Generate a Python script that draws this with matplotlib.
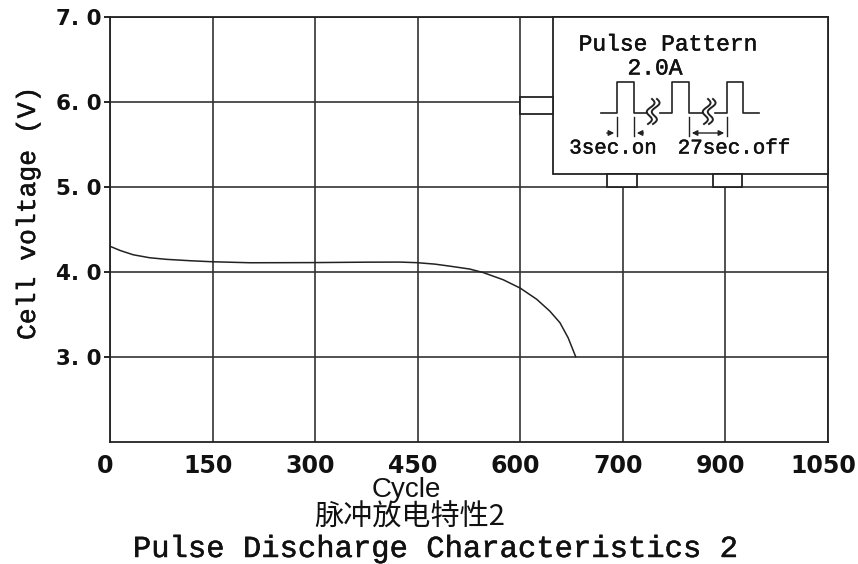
import numpy as np
import matplotlib
matplotlib.use("Agg")
import matplotlib.pyplot as plt
import matplotlib.patheffects as pe
from matplotlib.patches import Rectangle
from matplotlib.transforms import ScaledTranslation

# discharge curve
cycles = [0, 15, 34, 58, 83, 117, 149, 205, 300, 375, 424, 449, 475, 497, 526, 546,
          575, 600, 624, 643, 658, 670, 681]
volts = [4.30, 4.25, 4.20, 4.165, 4.146, 4.13, 4.118, 4.106, 4.108, 4.113, 4.114, 4.107,
         4.09, 4.066, 4.032, 3.99, 3.906, 3.807, 3.676, 3.538, 3.40, 3.222, 3.0]

xticks = [0, 150, 300, 450, 600, 750, 900, 1050]
xlabels = ["0", "150", "300", "450", "600", "700", "900", "1050"]
yticks = [3, 4, 5, 6, 7]
ylabels = ["3. 0", "4. 0", "5. 0", "6. 0", "7. 0"]

W, H = 858, 564
fig = plt.figure(figsize=(W / 100, H / 100), dpi=100)
fig.patch.set_facecolor("white")

def px(x, y):
    # figure pixels (from top-left) -> figure fraction
    return x / W, 1 - y / H

heavy = [pe.withStroke(linewidth=0.35, foreground="#111111")]

ax = fig.add_axes([110 / W, 1 - 441.6 / H, 718 / W, 424.6 / H])
ax.plot(cycles, volts, color="#222222", lw=1.1, zorder=3)
ax.set_xlim(0, 1050)
ax.set_ylim(2.0, 7.0)
ax.set_xticks(xticks)
ax.set_xticklabels(xlabels)
ax.set_yticks(yticks)
ax.set_yticklabels(ylabels)
ax.grid(True, color="#333333", lw=1.2)
for s in ax.spines.values():
    s.set_color("#222222")
    s.set_linewidth(1.3)
ax.tick_params(axis="x", length=0, pad=9, labelsize=17)
ax.tick_params(axis="y", length=4, width=1.2, pad=2, labelsize=15.5)
shift = ScaledTranslation(-5 / 100, 0, fig.dpi_scale_trans)
for lab in ax.get_xticklabels():
    lab.set_transform(lab.get_transform() + shift)
for lab in ax.get_xticklabels() + ax.get_yticklabels():
    lab.set_fontfamily("DejaVu Sans")
    lab.set_fontweight("bold")
    lab.set_color("#111111")

# overlay in figure pixels for the inset drawing
ov = fig.add_axes([0, 0, 1, 1], facecolor="none")
ov.set_xlim(0, W)
ov.set_ylim(H, 0)
ov.axis("off")

ek = dict(facecolor="white", edgecolor="#222222", lw=1.3)
ov.add_patch(Rectangle((553, 17), 275, 157, **ek, zorder=5))
ov.add_patch(Rectangle((520, 97), 33, 17, **ek, zorder=5))
ov.add_patch(Rectangle((607, 174), 30, 13, **ek, zorder=5))
ov.add_patch(Rectangle((713, 174), 29, 13, **ek, zorder=5))

mono = "Liberation Mono"
tk = dict(ha="center", va="center", family=mono, color="#111111", zorder=6,
          path_effects=heavy)
ov.text(668, 44, "Pulse Pattern", fontsize=16.5, **tk)
ov.text(655, 68, "2.0A", fontsize=16.5, **tk)
ov.text(613, 148, "3sec.on", fontsize=15, **tk)
ov.text(734, 148, "27sec.off", fontsize=15, **tk)

# pulse waveform
base, top = 113, 82
lc = "#222222"
segs = [
    ([601, 617, 617, 634, 634, 647], [base, base, top, top, base, base]),
    ([660, 672, 672, 689, 689, 703], [base, base, top, top, base, base]),
    ([715, 727, 727, 743, 743, 759], [base, base, top, top, base, base]),
]
for xs, ys in segs:
    ov.plot(xs, ys, color=lc, lw=1.2, zorder=6)

t = np.linspace(0, 1, 40)
for cx in (653, 709):
    for off in (-3, 2):
        yy = 99 + 25 * t
        xx = cx + off + 3.2 * np.sin(2 * np.pi * t * 1.5) - 4 * (t - 0.5)
        ov.plot(xx, yy, color=lc, lw=1.4, zorder=6)

# time markers
for x in (617, 634, 689, 727):
    ov.plot([x, x], [117, 136], color=lc, lw=1.0, zorder=6)
ov.annotate("", xy=(617, 133), xytext=(604, 133),
            arrowprops=dict(arrowstyle="-|>", color=lc, lw=1.0, mutation_scale=8), zorder=6)
ov.annotate("", xy=(634, 133), xytext=(646, 133),
            arrowprops=dict(arrowstyle="-|>", color=lc, lw=1.0, mutation_scale=8), zorder=6)
ov.annotate("", xy=(689, 133), xytext=(727, 133),
            arrowprops=dict(arrowstyle="<|-|>", color=lc, lw=1.0, mutation_scale=8), zorder=6)

# labels
x, y = px(28, 213)
fig.text(x, y, "Cell voltage (V)", rotation=90, ha="center", va="center",
         fontsize=19, family=mono, color="#111111", path_effects=heavy)
x, y = px(406, 490)
fig.text(x, y, "Cycle", ha="center", va="center", fontsize=20,
         family="Liberation Sans", color="#111111")
x, y = px(410, 518)
fig.text(x, y, "脉冲放电特性2", ha="center", va="center", fontsize=21,
         family=["Noto Sans CJK SC", "DejaVu Sans"], fontweight="medium", color="#111111")
x, y = px(434, 549)
fig.text(x, y, "Pulse Discharge Characteristics 2", ha="center", va="center",
         fontsize=22, family=mono, color="#111111", path_effects=heavy)

fig.savefig("out.png", dpi=100, facecolor="white")
